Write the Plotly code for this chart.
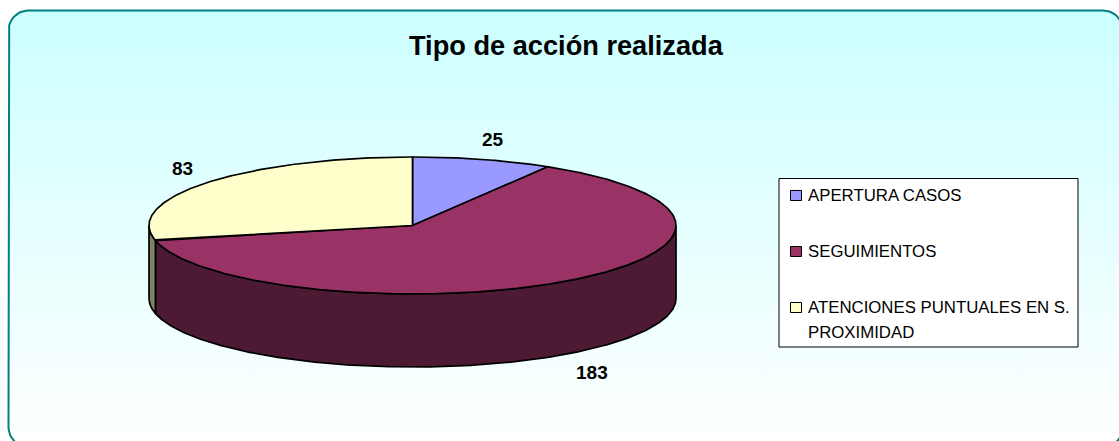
import math
import plotly.graph_objects as go

categories = ["APERTURA CASOS", "SEGUIMIENTOS", "ATENCIONES PUNTUALES EN S.<br>PROXIMIDAD"]
values = [25, 183, 83]
top_colors = ["#9999FF", "#993366", "#FFFFCC"]
side_colors = ["#4D4D80", "#4D1A33", "#808066"]
title_text = "Tipo de acción realizada"

W, H = 1119, 441
CX, CY, RX, RY, DEPTH = 412.5, 225.5, 263.5, 68.5, 73
TOTAL = sum(values)


def rim(a0, a1, dy=0.0):
    n = max(2, int(abs(a1 - a0) * 2) + 1)
    xs, ys = [], []
    for i in range(n):
        a = math.radians(a0 + (a1 - a0) * i / (n - 1))
        xs.append(CX + RX * math.sin(a))
        ys.append(CY - RY * math.cos(a) + dy)
    return xs, ys


def rounded_rect(x0, y0, x1, y1, r):
    xs, ys = [], []
    corners = [(x1 - r, y0 + r, -90), (x1 - r, y1 - r, 0), (x0 + r, y1 - r, 90), (x0 + r, y0 + r, 180)]
    for cx, cy, start in corners:
        for i in range(13):
            a = math.radians(start + 90 * i / 12)
            xs.append(cx + r * math.cos(a))
            ys.append(cy + r * math.sin(a))
    xs.append(xs[0])
    ys.append(ys[0])
    return xs, ys


fig = go.Figure()

# Chart frame with a vertical gradient
fx, fy = rounded_rect(8.5, 10.5, 1123, 447, 20)
fig.add_trace(go.Scatter(
    x=fx, y=fy, mode="lines", fill="toself",
    line=dict(color="#008080", width=2),
    fillgradient=dict(type="vertical", colorscale=[[0, "#FFFFFF"], [1, "#CCFFFF"]]),
    hoverinfo="skip", showlegend=False,
))

# Slice angles from the values, clockwise from 12 o'clock
angles = [0.0]
for v in values:
    angles.append(angles[-1] + v / TOTAL * 360)

# Side wall: visible between 90 and 270 degrees
for i, name in enumerate(categories):
    a0, a1 = max(angles[i], 90), min(angles[i + 1], 270)
    if a0 >= a1:
        continue
    tx, ty = rim(a0, a1)
    bx, by = rim(a0, a1, DEPTH)
    fig.add_trace(go.Scatter(
        x=tx + bx[::-1] + tx[:1], y=ty + by[::-1] + ty[:1],
        mode="lines", fill="toself", fillcolor=side_colors[i],
        line=dict(color="black", width=1.7),
        hoverinfo="skip", showlegend=False,
    ))

# Top faces
for i, name in enumerate(categories):
    rx_, ry_ = rim(angles[i], angles[i + 1])
    fig.add_trace(go.Scatter(
        x=[CX] + rx_ + [CX], y=[CY] + ry_ + [CY],
        mode="lines", fill="toself", fillcolor=top_colors[i],
        line=dict(color="black", width=1.7),
        name=name.replace("<br>", " "), text=[str(values[i])] * (len(rx_) + 2),
        hoverinfo="name+text", showlegend=False,
    ))

# Value labels
label_pos = [(493, 139), (592, 372), (182.5, 168)]
for v, (lx, ly) in zip(values, label_pos):
    fig.add_annotation(x=lx, y=ly, text=f"<b>{v}</b>", showarrow=False, xanchor="center", yanchor="middle",
                       font=dict(family="Liberation Sans", size=19, color="black"))

# Title
fig.add_annotation(x=566.5, y=45, text=f"<b>{title_text}</b>", showarrow=False, xanchor="center", yanchor="middle",
                   font=dict(family="Liberation Sans", size=27.2, color="black"))

# Legend box
fig.add_shape(type="rect", x0=779, y0=178.5, x1=1078, y1=347, fillcolor="white", line=dict(color="black", width=1))
sym_y = [195.5, 251.5, 307.5]
txt_y = [195, 251, 307.5]
LINE_GAP = 24.5
for i, name in enumerate(categories):
    fig.add_shape(type="rect", x0=790.5, x1=801.5, y0=sym_y[i] - 5, y1=sym_y[i] + 5,
                  fillcolor=top_colors[i], line=dict(color="black", width=1))
    for j, line in enumerate(name.split("<br>")):
        fig.add_annotation(x=806, y=txt_y[i] + j * LINE_GAP, text=line, showarrow=False,
                           xanchor="left", yanchor="middle", align="left",
                           font=dict(family="Liberation Sans", size=16.8, color="black"))

fig.update_layout(
    width=W, height=H, margin=dict(l=0, r=0, t=0, b=0), autosize=False,
    paper_bgcolor="white", plot_bgcolor="rgba(0,0,0,0)", showlegend=False,
    xaxis=dict(range=[0, W], visible=False, fixedrange=True),
    yaxis=dict(range=[H, 0], visible=False, fixedrange=True),
)
fig.write_html("out.html", config={"displayModeBar": False},
               post_script="document.body.style.margin='0';document.body.style.overflow='hidden';")
